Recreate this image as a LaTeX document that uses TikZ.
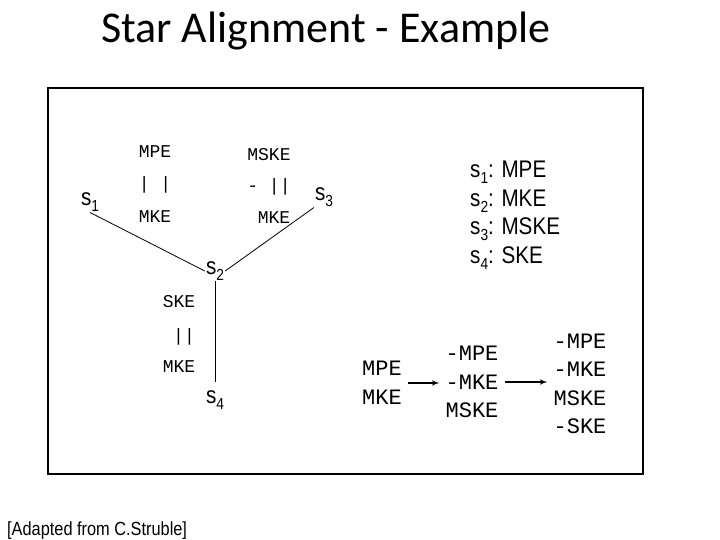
\documentclass[tikz,border=0pt]{standalone}
\usepackage{fontspec}
\usetikzlibrary{arrows}
\setmainfont{Carlito}
\newfontfamily\narrowsans[FakeStretch=0.86]{Liberation Sans}
\newfontfamily\courier{Liberation Mono}
\newcommand{\sidx}[1]{s\raisebox{-.45ex}{\fontsize{16}{16}\selectfont #1}}

\begin{document}
\begin{tikzpicture}[x=1pt, y=-1pt,
 seq/.style={font=\narrowsans\fontsize{24}{28}\selectfont, inner sep=1},
 res/.style={font=\courier\fontsize{18}{18}\selectfont, inner sep=1},
 aln/.style={font=\courier\fontsize{22}{28.5}\selectfont, align=center, inner sep=6}]
\useasboundingbox (0,0) rectangle (720,540);
\node[anchor=base west, inner sep=0, font=\fontsize{44}{44}\selectfont] (title) at (101,43) {Star Alignment - Example};
\draw[line width=1.5] (48,88) rectangle (643,474);
\node[seq] (s1) at (90,202) {\sidx{1}};
\node[seq] (s2) at (215,271) {\sidx{2}};
\node[seq] (s3) at (324,197) {\sidx{3}};
\node[seq] (s4) at (215,400) {\sidx{4}};
\node[res] (mpe12) at (155,152) {MPE};
\node[res] (bar12) at (155,185) {| |};
\node[res] (mke12) at (155,217) {MKE};
\node[res] (mske32) at (269,155) {MSKE};
\node[res] (bar32) at (269,187) {- ||};
\node[res] (mke32) at (274,218) {MKE};
\node[res] (ske42) at (179,302) {SKE};
\node[res] (bar42) at (184,337) {||};
\node[res] (mke42) at (179,367) {MKE};
\draw[line width=.8] (s1.south) -- (s2.west) (s2.east) -- (s3.south west);
\draw[line width=.8, shorten >=8] (s2.south) -- (s4.north);
\foreach \i/\t in {1/MPE,2/MKE,3/MSKE,4/SKE}
 \node[seq, anchor=base west] (seq\i) at (469,{149.5+28.5*\i}) {\sidx{\i}: \t};
\node[aln] (step1) at (382,383) {MPE\\MKE};
\node[aln] (step2) at (472,382) {-MPE\\-MKE\\MSKE};
\node[aln] (step3) at (580,384) {-MPE\\-MKE\\MSKE\\-SKE};
\draw[line width=1.5, ->, >=latex'] (step1.east) -- (step2.west |- step1.east);
\draw[line width=1.5, ->, >=latex'] (step2.east) -- (step3.west |- step2.east);
\node[anchor=base west, inner sep=0, font=\narrowsans\fontsize{19}{19}\selectfont] (credit) at (7,535) {[Adapted from C.Struble]};
\end{tikzpicture}
\end{document}
